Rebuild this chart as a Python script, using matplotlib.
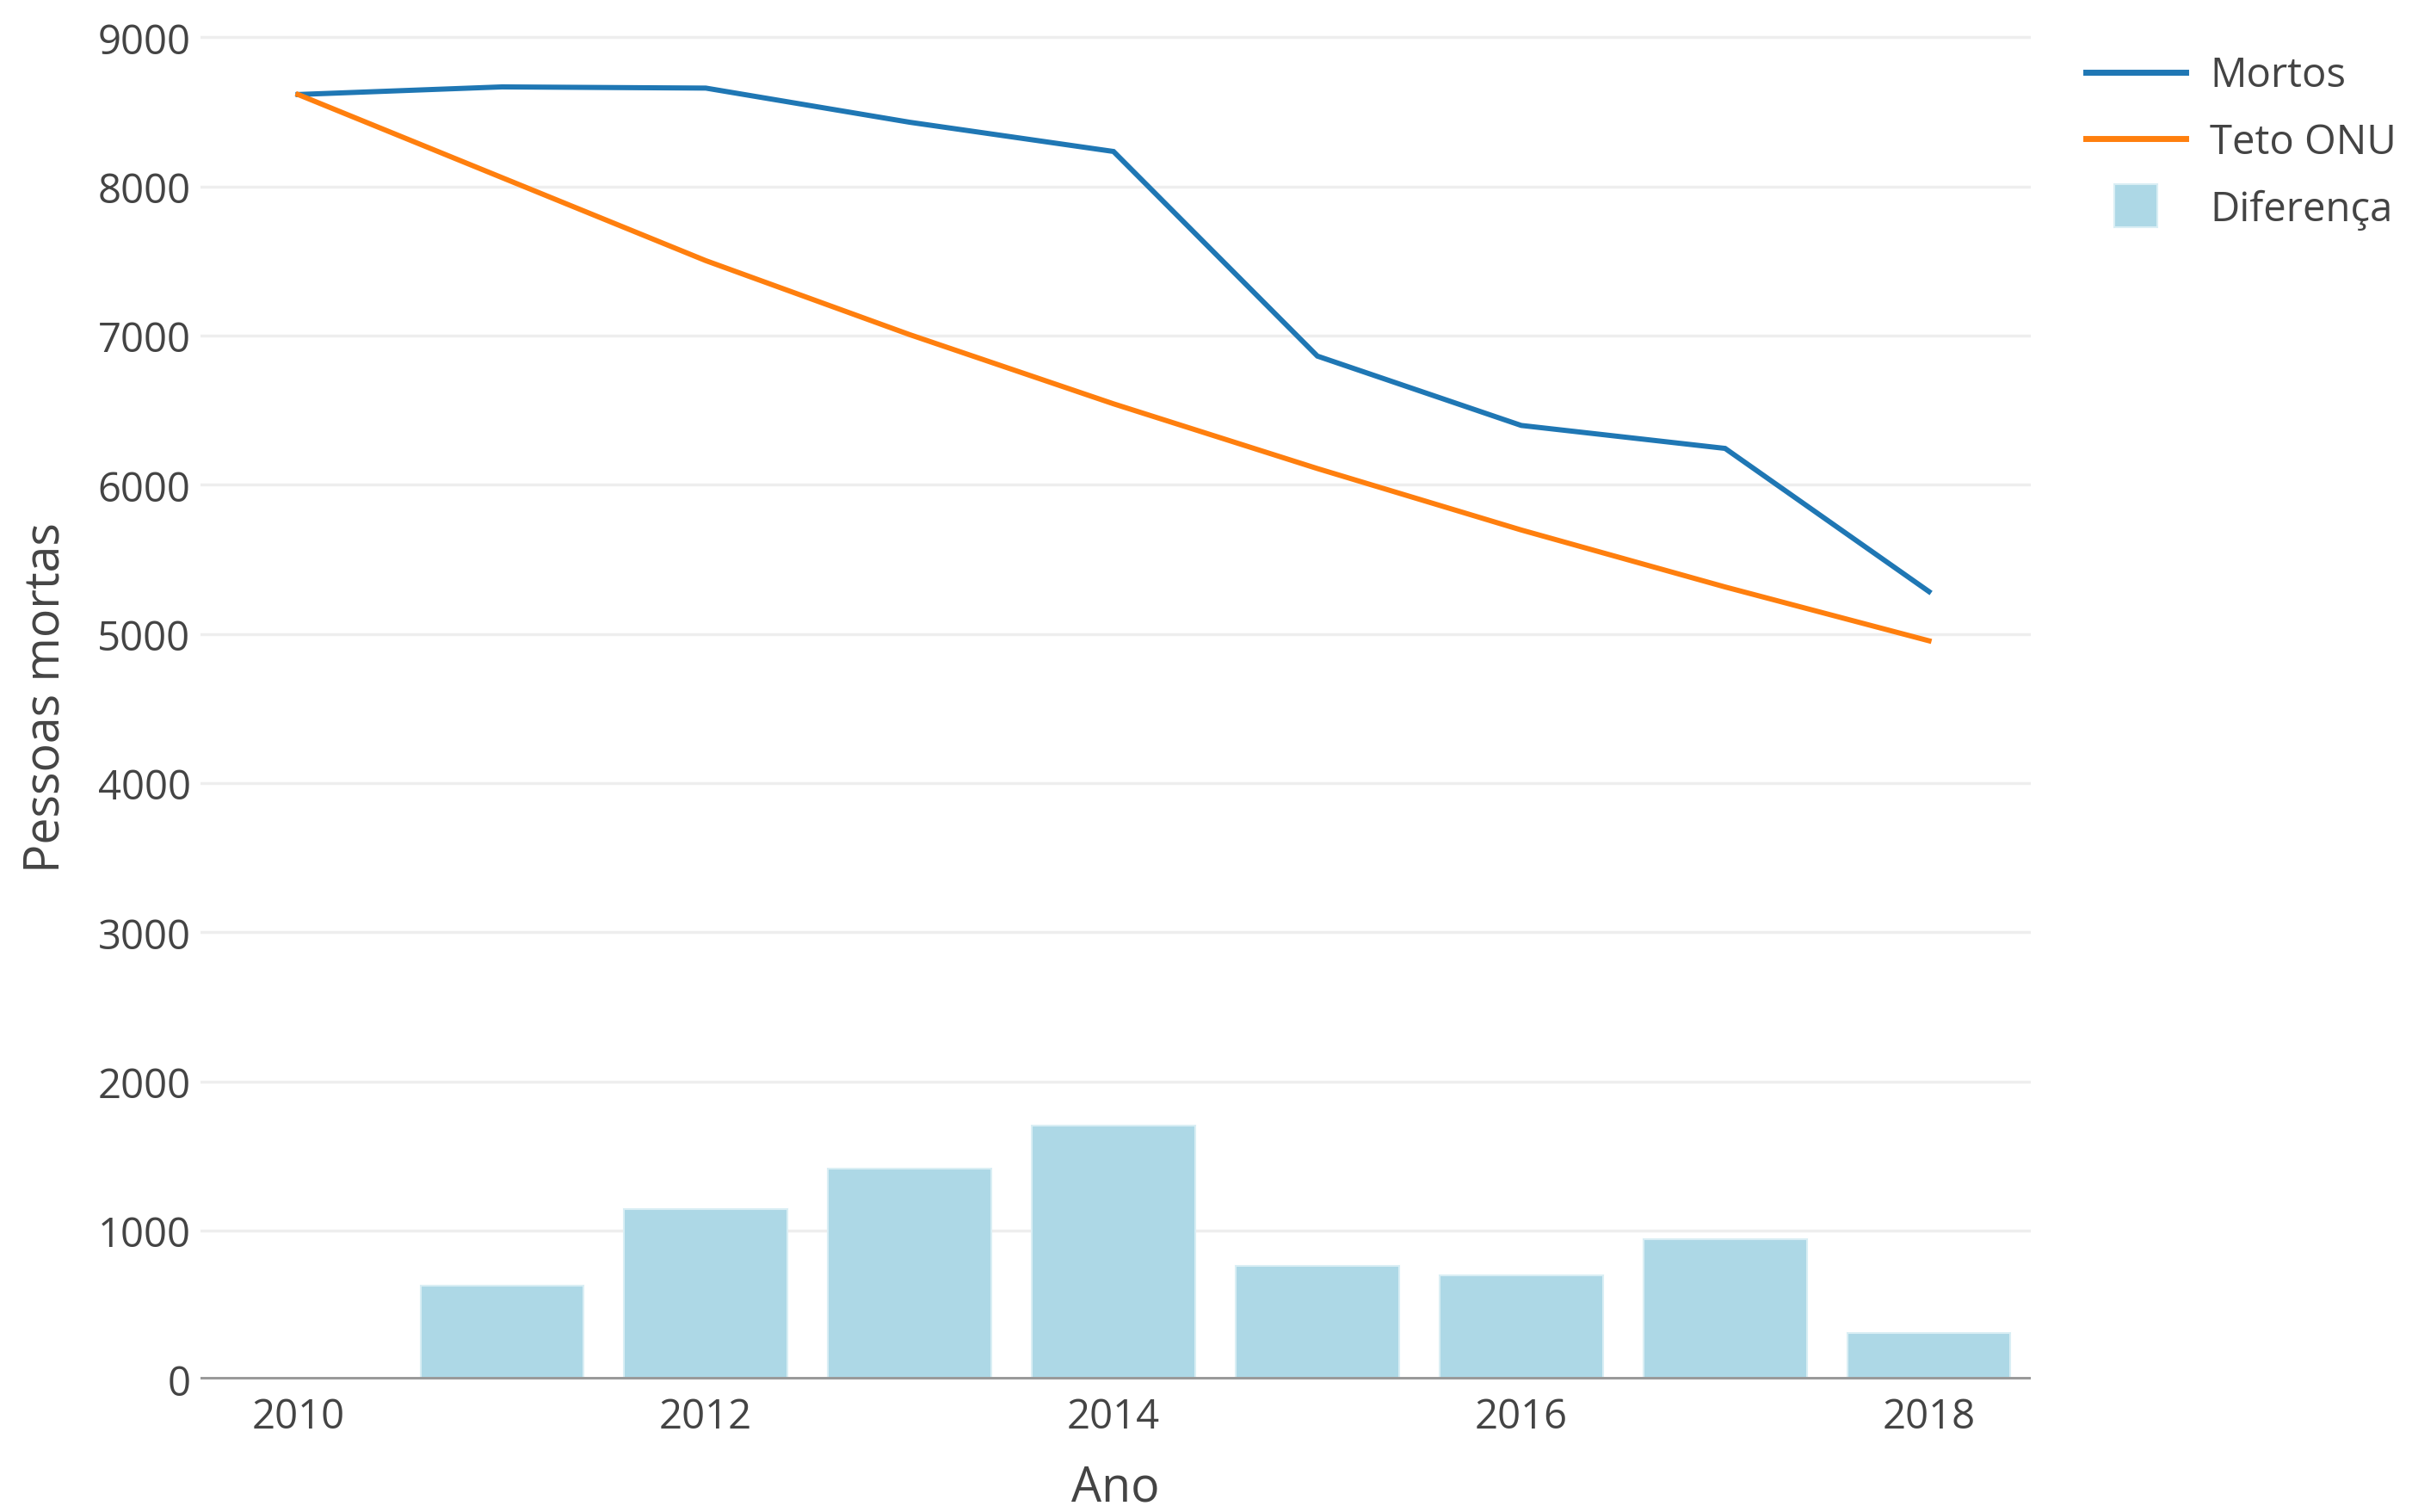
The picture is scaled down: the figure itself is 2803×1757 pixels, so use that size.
import matplotlib
matplotlib.use("Agg")
import matplotlib.pyplot as plt
from matplotlib.lines import Line2D

plt.rcParams["font.family"] = ["Open Sans", "DejaVu Sans"]

anos = [2010, 2011, 2012, 2013, 2014, 2015, 2016, 2017, 2018]
mortos = [8617, 8668, 8660, 8431, 8235, 6863, 6398, 6244, 5284]
teto_onu = [8617, 8060, 7503, 7007, 6543, 6109, 5697, 5315, 4954]
diferenca = [0, 630, 1146, 1414, 1703, 764, 702, 939, 310]

x_ticks = [2010, 2012, 2014, 2016, 2018]
y_ticks = [0, 1000, 2000, 3000, 4000, 5000, 6000, 7000, 8000, 9000]

BLUE = "#1f77b4"
ORANGE = "#ff7f0e"
BAR = "#add8e6"
TEXT = "#444444"

fig = plt.figure(figsize=(28.03, 17.58), dpi=100)
ax = fig.add_axes([0.083, 0.0875, 0.759, 0.9025])

ax.bar(anos, diferenca, width=0.8, color=BAR, edgecolor="#d9eef4",
       linewidth=1.5, zorder=2)
ax.plot(anos, mortos, color=BLUE, linewidth=4.3, zorder=3,
        solid_joinstyle="miter")
ax.plot(anos, teto_onu, color=ORANGE, linewidth=4.3, zorder=3,
        solid_joinstyle="miter")

ax.set_xlim(2009.52, 2018.5)
ax.set_ylim(0, 9155)
ax.set_xticks(x_ticks)
ax.set_yticks(y_ticks)
ax.set_xticklabels([str(t) for t in x_ticks])
ax.set_yticklabels([str(t) for t in y_ticks])

ax.grid(axis="y", color="#eeeeee", linewidth=2.5, zorder=0)
ax.set_axisbelow(True)
ax.axhline(0, color="#999999", linewidth=5, zorder=4)
for s in ax.spines.values():
    s.set_visible(False)
ax.tick_params(axis="both", length=0, labelsize=34, colors=TEXT)
ax.tick_params(axis="x", pad=14)
ax.tick_params(axis="y", pad=8)

ax.set_xlabel("Ano", fontsize=40, color=TEXT, labelpad=22)
ax.set_ylabel("Pessoas mortas", fontsize=40, color=TEXT, labelpad=22)

handles = [
    Line2D([], [], color=BLUE, linewidth=5),
    Line2D([], [], color=ORANGE, linewidth=5),
    Line2D([], [], color=BAR, marker="s", linestyle="none", markersize=36,
           markeredgecolor="#d9eef4", markeredgewidth=1.5),
]
fig.legend(handles, ["Mortos", "Teto ONU", "Diferença"],
           loc="upper left", bbox_to_anchor=(0.858, 0.974), frameon=False,
           fontsize=34, labelcolor=TEXT, handlelength=2.45,
           handletextpad=0.6, labelspacing=0.64, borderaxespad=0)

fig.savefig("out.png", dpi=100, facecolor="white")
